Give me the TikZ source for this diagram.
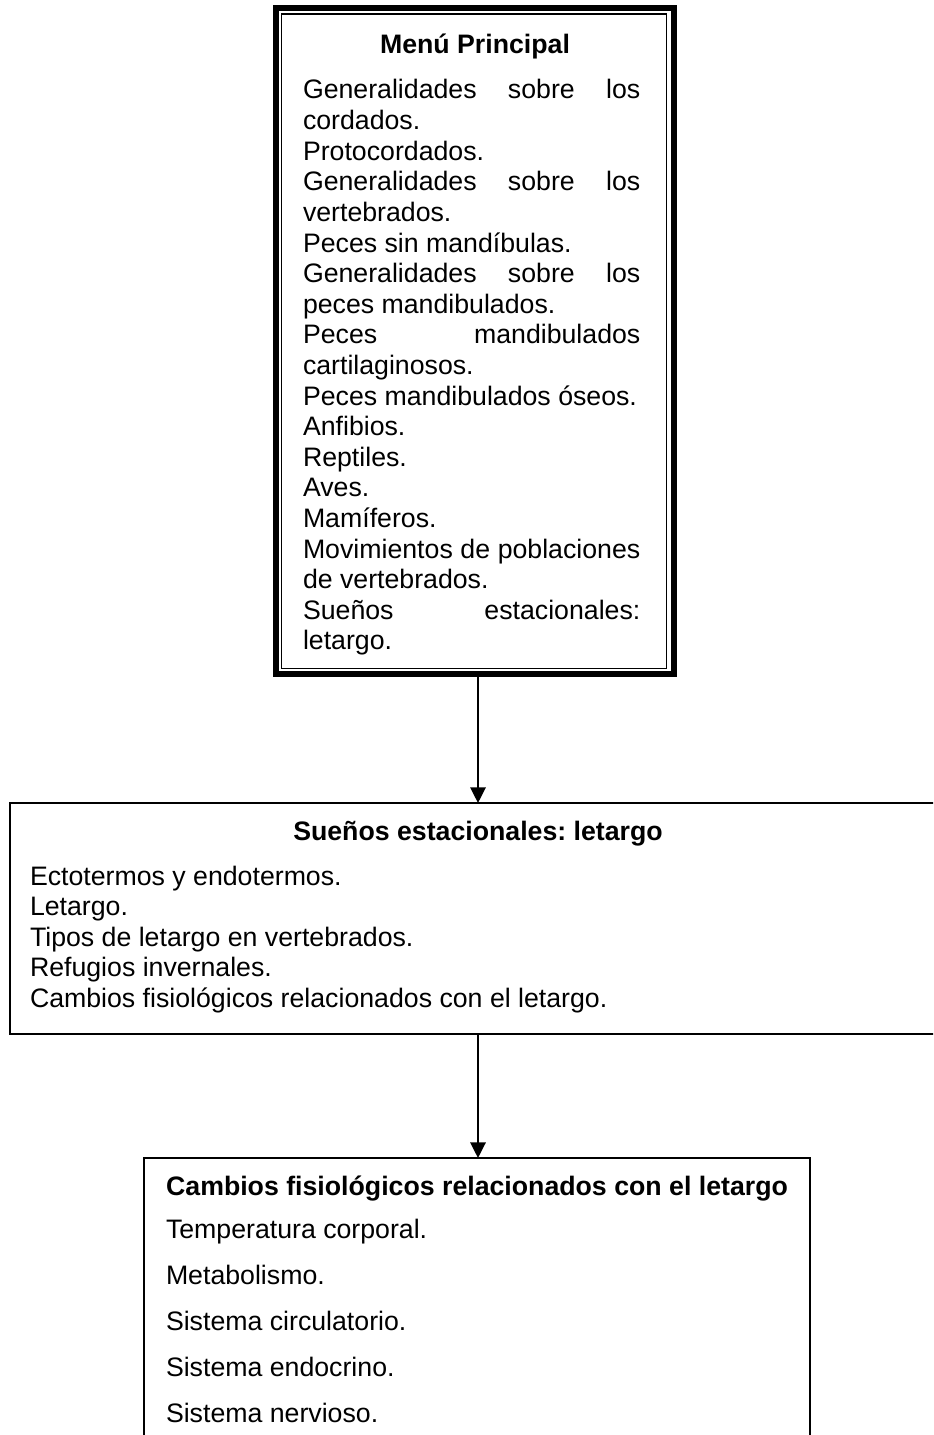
\documentclass[tikz,border=0pt]{standalone}
\usepackage{fontspec}
\setmainfont{Liberation Sans}
\usetikzlibrary{arrows.meta,calc}
\newlength{\colw}\setlength{\colw}{151.6pt}
\newcommand{\jline}[1]{\makebox[\colw][s]{#1}}
\frenchspacing
\begin{document}
\begin{tikzpicture}[x=0.4494pt,y=-0.4494pt,
  font=\fontsize{12}{13.8}\selectfont,
  txt/.style={inner sep=0pt, outer sep=0pt, anchor=base west},
  ttl/.style={inner sep=0pt, outer sep=0pt, anchor=base, font=\fontsize{12}{13.8}\selectfont\bfseries},
  boxline/.style={draw, line width=1.15pt, inner sep=0pt, outer sep=0pt},
  conn/.style={line width=1.1pt, -{Triangle[length=7pt,width=6.8pt]}}]
\useasboundingbox (0,0) rectangle (933,1435);
\clip (0,0) rectangle (933,1435);
% top menu box (thick-thin frame)
\node[draw, line width=2.7pt, inner sep=0pt, outer sep=0pt, minimum width=178.9pt, minimum height=299.3pt] (menu) at (475,341) {};
\node[draw, line width=0.65pt, inner sep=0pt, outer sep=0pt, minimum width=173pt, minimum height=294.1pt] (menuin) at (474,341.3) {};
\node[ttl] (menutitle) at (475,54) {Menú Principal};
\foreach \t [count=\i from 0] in {
  {\jline{Generalidades sobre los}},
  {cordados.},
  {Protocordados.},
  {\jline{Generalidades sobre los}},
  {vertebrados.},
  {Peces sin mandíbulas.},
  {\jline{Generalidades sobre los}},
  {peces mandibulados.},
  {\jline{Peces mandibulados}},
  {cartilaginosos.},
  {Peces mandibulados óseos.},
  {Anfibios.},
  {Reptiles.},
  {Aves.},
  {Mamíferos.},
  {\jline{Movimientos de poblaciones}},
  {de vertebrados.},
  {\jline{Sueños estacionales:}},
  {letargo.}}
  \node[txt] (m\i) at (303,{99+30.6*\i}) {\t};
% middle box
\node[boxline, minimum width=422.4pt, minimum height=103.8pt] (mid) at (480,918.5) {};
\node[ttl] (midtitle) at (478,840) {Sueños estacionales: letargo};
\foreach \t [count=\i from 0] in {
  {Ectotermos y endotermos.},
  {Letargo.},
  {Tipos de letargo en vertebrados.},
  {Refugios invernales.},
  {Cambios fisiológicos relacionados con el letargo.}}
  \node[txt] (s\i) at (30,{885+30.6*\i}) {\t};
% bottom box
\node[boxline, minimum width=299.3pt, minimum height=135.7pt] (bot) at (477,1309) {};
\node[ttl] (bottitle) at (477,1195) {Cambios fisiológicos relacionados con el letargo};
\foreach \t [count=\i from 0] in {
  {Temperatura corporal.},
  {Metabolismo.},
  {Sistema circulatorio.},
  {Sistema endocrino.},
  {Sistema nervioso.}}
  \node[txt] (c\i) at (166,{1238+46.2*\i}) {\t};
% connectors
\coordinate (ax) at (478,0);
\draw[conn] (menu.south -| ax) -- (mid.north -| ax);
\draw[conn] (mid.south -| ax) -- (bot.north -| ax);
\end{tikzpicture}
\end{document}
